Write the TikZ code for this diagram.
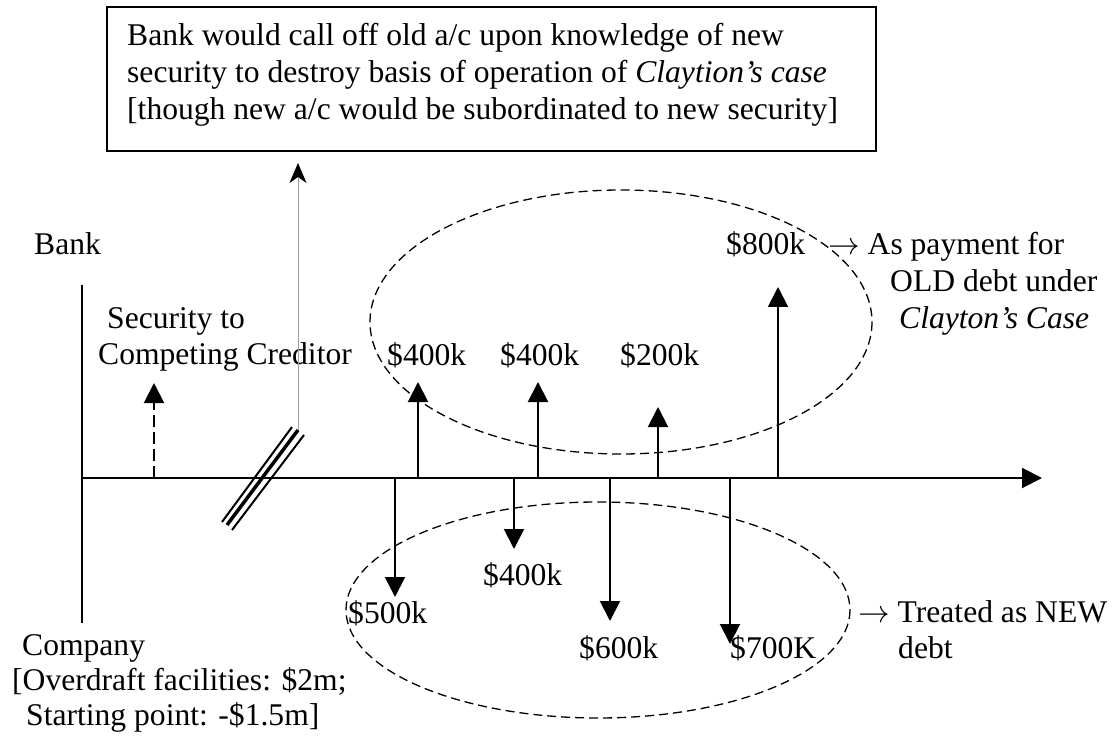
\RequirePackage{fix-cm}
\documentclass[tikz,border=0pt]{standalone}
\usepackage{fontspec}
\setmainfont{Liberation Serif}
\usetikzlibrary{arrows.meta}
\begin{document}
\begin{tikzpicture}[x=1pt,y=-1pt,
  txt/.style={font=\fontsize{31.6}{37}\selectfont, inner sep=0pt, anchor=base west},
  stem/.style={line width=2pt, -{Triangle[length=20pt,width=20pt]}},
  grp/.style={line width=1.3pt, dash pattern=on 9pt off 5pt},
  slash/.style={line width=#1, line cap=butt}
]
\useasboundingbox (0,0) rectangle (1112,738);

% note box
\node[draw, line width=2pt, minimum width=769pt, minimum height=144pt,
      anchor=north west, inner sep=0pt] (box) at (106,6) {};
\node[txt] (b1) at (127,46) {Bank would call off old a/c upon knowledge of new};
\node[txt] (b2) at (127,83) {security to destroy basis of operation of \textit{Claytion’s case}};
\node[txt] (b3) at (127,120) {[though new a/c would be subordinated to new security]};

% axes
\coordinate (vtop) at (82,285);
\coordinate (vbot) at (82,623);
\coordinate (o) at (82,478);
\coordinate (xend) at (1042,478);
\draw[line width=2pt] (vtop) -- (vbot);
\draw[line width=2pt, -{Triangle[length=20pt,width=20pt]}] (o) -- (xend);

% labels left
\node[txt] (bank) at (34,255) {Bank};
\node[txt] (sec1) at (107,328) {Security to};
\node[txt] (sec2) at (98,364) {Competing Creditor};
\node[txt] (comp1) at (22,655) {Company};
\node[txt] (comp2) at (12,690) {[Overdraft facilities: \$2m;};
\node[txt] (comp3) at (26,725) {Starting point: -\$1.5m]};

% security arrow (dashed)
\coordinate (s0) at (154,478);
\coordinate (s1) at (154,383);
\draw[line width=2pt, dash pattern=on 12pt off 5pt, -{Triangle[length=20pt,width=20pt]}] (s0) -- (s1);

% triple slash
\draw[slash=2pt] (222,522) -- (292,427);
\draw[slash=3.5pt] (227,525) -- (298,430);
\draw[slash=2pt] (232,530) -- (304,435);

% grey arrow to box
\coordinate (gbase) at (298,430);
\coordinate (gtip) at (298,163);
\draw[gray!75, line width=1pt, -{Stealth[length=20pt,width=17pt,inset=6pt,black]}] (gbase) -- (gtip);

% up arrows (payments in)
\coordinate (u1b) at (418,478); \coordinate (u1t) at (418,382);
\coordinate (u2b) at (538,478); \coordinate (u2t) at (538,382);
\coordinate (u3b) at (658,478); \coordinate (u3t) at (658,407);
\coordinate (u4b) at (778,478); \coordinate (u4t) at (778,287);
\draw[stem] (u1b) -- (u1t);
\draw[stem] (u2b) -- (u2t);
\draw[stem] (u3b) -- (u3t);
\draw[stem] (u4b) -- (u4t);
\node[txt] (l1) at (387,365) {\$400k};
\node[txt] (l2) at (500,365) {\$400k};
\node[txt] (l3) at (620,365) {\$200k};
\node[txt] (l4) at (726,255) {\$800k};

% down arrows (drawings)
\coordinate (d1b) at (395,478); \coordinate (d1t) at (395,597);
\coordinate (d2b) at (514,478); \coordinate (d2t) at (514,549);
\coordinate (d3b) at (610,478); \coordinate (d3t) at (610,621);
\coordinate (d4b) at (730,478); \coordinate (d4t) at (730,644);
\draw[stem] (d1b) -- (d1t);
\draw[stem] (d2b) -- (d2t);
\draw[stem] (d3b) -- (d3t);
\draw[stem] (d4b) -- (d4t);
\node[txt] (m1) at (348,623) {\$500k};
\node[txt] (m2) at (483,585) {\$400k};
\node[txt] (m3) at (579,658) {\$600k};
\node[txt] (m4) at (730,658) {\$700K};

% groups
\draw[grp] (621,322) ellipse [x radius=251, y radius=132];
\draw[grp] (598,610) ellipse [x radius=252, y radius=108];

% right notes
\node[txt] (r1) at (828,255) {$\rightarrow$ As payment for};
\node[txt] (r2) at (890,292) {OLD debt under};
\node[txt] (r3) at (899,328) {\textit{Clayton’s Case}};
\node[txt] (n1) at (858,622) {$\rightarrow$ Treated as NEW};
\node[txt] (n2) at (898,658) {debt};
\end{tikzpicture}
\end{document}
